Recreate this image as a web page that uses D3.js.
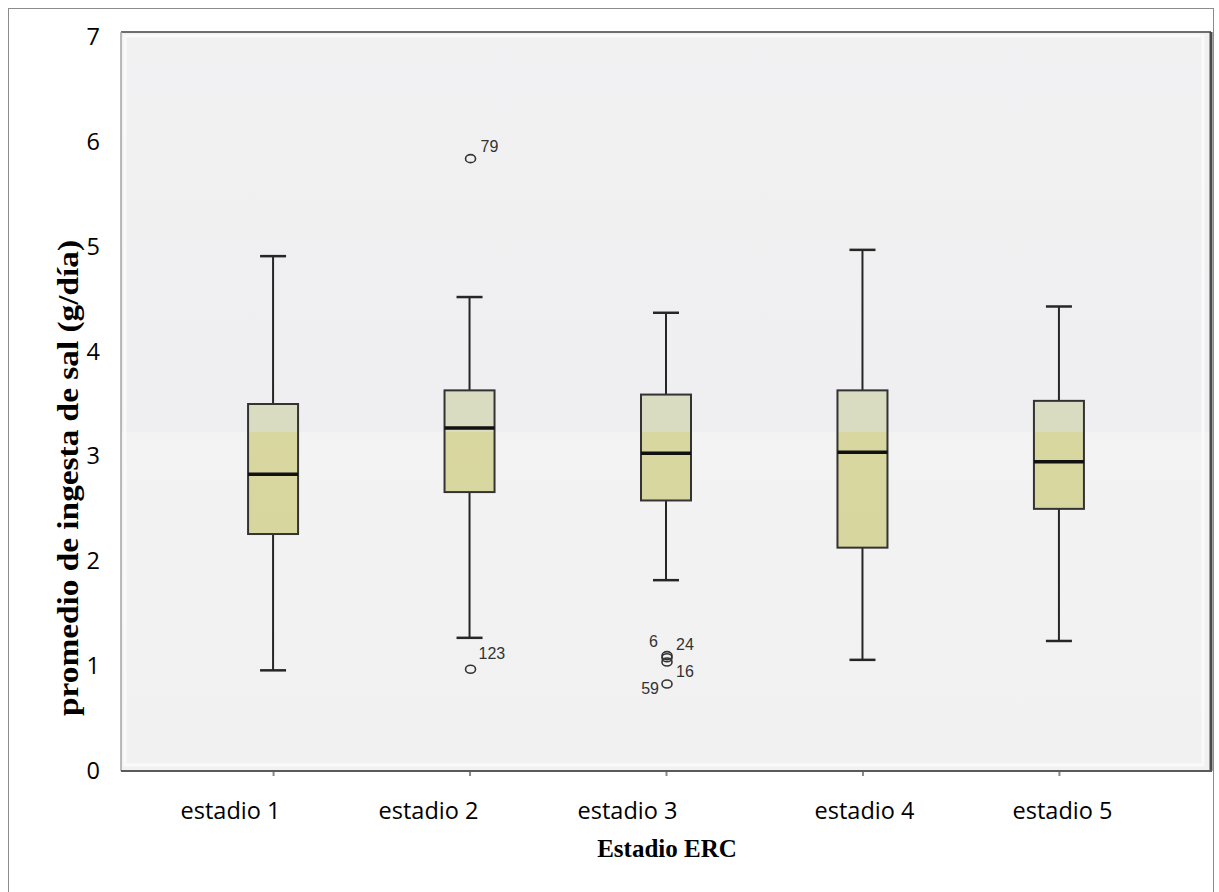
<!DOCTYPE html>
<html>
<head>
<meta charset="utf-8">
<script src="https://cdn.jsdelivr.net/npm/d3@7"></script>
<style>
  body { margin: 0; background: #fff; }
  .tick-label { font-family: 'Open Sans', sans-serif; font-size: 23.5px; fill: #000; }
  .axis-title { font-family: 'Liberation Serif', 'Times New Roman', serif; font-weight: bold; fill: #000; }
  .out-label { font-family: 'Liberation Sans', Arial, sans-serif; font-size: 16px; fill: #333; }
</style>
</head>
<body>
<div class="chart"></div>
<script>
// DATA ---------------------------------------------------------------

const stages = ['estadio 1', 'estadio 2', 'estadio 3', 'estadio 4', 'estadio 5'];
const whiskerLow  = [0.96, 1.27, 1.82, 1.06, 1.24];
const q1          = [2.26, 2.66, 2.58, 2.13, 2.50];
const medians     = [2.83, 3.27, 3.03, 3.04, 2.95];
const q3          = [3.50, 3.63, 3.59, 3.63, 3.53];
const whiskerHigh = [4.91, 4.52, 4.37, 4.97, 4.43];

const outlierStage = ['estadio 2', 'estadio 2', 'estadio 3', 'estadio 3', 'estadio 3', 'estadio 3'];
const outlierValue = [5.84, 0.97, 1.10, 1.08, 1.04, 0.83];
const outlierId    = ['79', '123', '6', '24', '16', '59'];

const yTicks = [0, 1, 2, 3, 4, 5, 6, 7];

// label placement around each outlier (layout only)
const labelPos = {
    '79':  {dx: 11, dy: -11, anchor: 'start'},
    '123': {dx: 9,  dy: -15, anchor: 'start'},
    '6':   {dx: -8, dy: -13, anchor: 'end'},
    '24':  {dx: 10, dy: -12, anchor: 'start'},
    '16':  {dx: 10, dy: 11,  anchor: 'start'},
    '59':  {dx: -7, dy: 6,   anchor: 'end'}
};

// the category labels were set by hand under the pasted plot, not exactly under each box
const labelCenters = [230, 428, 627, 864, 1062];

// CHART INIT ---------------------------------------------------------

const W = 1219, H = 892;
const plot = {left: 121, right: 1211, top: 32, bottom: 771};

const svg = d3.select('.chart')
    .append('svg')
    .attr('width', W)
    .attr('height', H);

// outer frame
svg.append('rect')
    .attr('x', 8.5).attr('y', 8.5)
    .attr('width', 1205).attr('height', 900)
    .attr('fill', 'none')
    .attr('stroke', '#8c8c8c')
    .attr('stroke-width', 1);

const xScale = d3.scalePoint()
    .domain(stages)
    .range([plot.left, plot.right])
    .padding(0.774);

const xLabelScale = d3.scaleOrdinal()
    .domain(stages)
    .range(labelCenters);

const yScale = d3.scaleLinear()
    .domain([0, 7])
    .range([771, 37]);

const defs = svg.append('defs');
const bandStop = (yScale(3.23) - plot.top) / (plot.bottom - plot.top);

const bgGrad = defs.append('linearGradient')
    .attr('id', 'bg')
    .attr('gradientUnits', 'userSpaceOnUse')
    .attr('x1', 0).attr('x2', 0)
    .attr('y1', plot.top).attr('y2', plot.bottom);
bgGrad.append('stop').attr('offset', 0).attr('stop-color', '#f1f1f2');
bgGrad.append('stop').attr('offset', bandStop).attr('stop-color', '#efeff1');
bgGrad.append('stop').attr('offset', bandStop).attr('stop-color', '#f3f3f3');
bgGrad.append('stop').attr('offset', 1).attr('stop-color', '#f1f1f1');

const boxGrad = defs.append('linearGradient')
    .attr('id', 'boxfill')
    .attr('gradientUnits', 'userSpaceOnUse')
    .attr('x1', 0).attr('x2', 0)
    .attr('y1', plot.top).attr('y2', plot.bottom);
boxGrad.append('stop').attr('offset', 0).attr('stop-color', '#dcdfca');
boxGrad.append('stop').attr('offset', bandStop).attr('stop-color', '#d9dcc0');
boxGrad.append('stop').attr('offset', bandStop).attr('stop-color', '#d8d79f');
boxGrad.append('stop').attr('offset', 1).attr('stop-color', '#d6d49c');

// plot background
svg.append('rect')
    .attr('x', plot.left).attr('y', plot.top)
    .attr('width', plot.right - plot.left)
    .attr('height', plot.bottom - plot.top)
    .attr('fill', 'url(#bg)');

// soft lighter rim just inside the frame
svg.append('rect')
    .attr('x', plot.left + 4).attr('y', plot.top + 4)
    .attr('width', plot.right - plot.left - 12)
    .attr('height', plot.bottom - plot.top - 10)
    .attr('fill', 'none')
    .attr('stroke', '#fafafa')
    .attr('stroke-width', 3);

// plot frame
svg.append('line')
    .attr('x1', plot.left).attr('x2', plot.right)
    .attr('y1', plot.top).attr('y2', plot.top)
    .attr('stroke', '#6e6e6e').attr('stroke-width', 2);
svg.append('line')
    .attr('x1', plot.left).attr('x2', plot.left)
    .attr('y1', plot.top).attr('y2', plot.bottom)
    .attr('stroke', '#a5a5a5').attr('stroke-width', 1.5);
svg.append('line')
    .attr('x1', plot.right).attr('x2', plot.right)
    .attr('y1', plot.top).attr('y2', plot.bottom)
    .attr('stroke', '#4a4a4a').attr('stroke-width', 3);
svg.append('line')
    .attr('x1', plot.left).attr('x2', plot.right + 1)
    .attr('y1', plot.bottom).attr('y2', plot.bottom)
    .attr('stroke', '#5a5a5a').attr('stroke-width', 2);

// AXES ---------------------------------------------------------------

const yAxis = d3.axisLeft(yScale)
    .tickValues(yTicks)
    .tickFormat(d3.format('d'))
    .tickSize(0)
    .tickPadding(0);

svg.append('g')
    .attr('class', 'axis y-axis')
    .attr('transform', 'translate(100,0)')
    .call(yAxis)
    .call(g => g.select('.domain').remove())
    .selectAll('text')
    .attr('class', 'tick-label')
    .attr('font-family', null)
    .attr('font-size', null);

// small tick marks under each box
const xTicks = d3.axisBottom(xScale)
    .tickSize(4)
    .tickFormat('');

svg.append('g')
    .attr('class', 'axis x-ticks')
    .attr('transform', 'translate(0,' + (plot.bottom + 1) + ')')
    .call(xTicks)
    .call(g => g.select('.domain').remove())
    .call(g => g.selectAll('line').attr('stroke', '#888').attr('stroke-width', 2));

// category labels
const xAxis = d3.axisBottom(xLabelScale)
    .tickSize(0)
    .tickPadding(30);

svg.append('g')
    .attr('class', 'axis x-axis')
    .attr('transform', 'translate(0,' + (plot.bottom + 1) + ')')
    .call(xAxis)
    .call(g => g.select('.domain').remove())
    .selectAll('text')
    .attr('class', 'tick-label')
    .attr('font-family', null)
    .attr('font-size', null);

svg.append('text')
    .attr('class', 'axis-title')
    .attr('x', 667)
    .attr('y', 857)
    .attr('text-anchor', 'middle')
    .attr('font-size', 25)
    .text('Estadio ERC');

svg.append('text')
    .attr('class', 'axis-title')
    .attr('transform', 'translate(78,478) rotate(-90)')
    .attr('text-anchor', 'middle')
    .attr('font-size', 29)
    .attr('textLength', 476)
    .attr('lengthAdjust', 'spacingAndGlyphs')
    .text('promedio de ingesta de sal (g/día)');

// BOXES --------------------------------------------------------------

const boxes = stages.map((s, i) => ({
    stage: s, lo: whiskerLow[i], q1: q1[i], med: medians[i], q3: q3[i], hi: whiskerHigh[i]
}));

const boxW = 50, capW = 26;

const g = svg.selectAll('.box')
    .data(boxes)
    .enter()
    .append('g')
    .attr('class', 'box')
    .attr('transform', d => 'translate(' + xScale(d.stage) + ',0)');

// whiskers
g.append('line')
    .attr('x1', 0).attr('x2', 0)
    .attr('y1', d => yScale(d.hi)).attr('y2', d => yScale(d.q3))
    .attr('stroke', '#262626').attr('stroke-width', 2);
g.append('line')
    .attr('x1', 0).attr('x2', 0)
    .attr('y1', d => yScale(d.q1)).attr('y2', d => yScale(d.lo))
    .attr('stroke', '#262626').attr('stroke-width', 2);
g.append('line')
    .attr('x1', -capW / 2).attr('x2', capW / 2)
    .attr('y1', d => yScale(d.hi)).attr('y2', d => yScale(d.hi))
    .attr('stroke', '#262626').attr('stroke-width', 2.5);
g.append('line')
    .attr('x1', -capW / 2).attr('x2', capW / 2)
    .attr('y1', d => yScale(d.lo)).attr('y2', d => yScale(d.lo))
    .attr('stroke', '#262626').attr('stroke-width', 2.5);

g.append('rect')
    .attr('x', -boxW / 2)
    .attr('width', boxW)
    .attr('y', d => yScale(d.q3))
    .attr('height', d => yScale(d.q1) - yScale(d.q3))
    .attr('fill', 'url(#boxfill)')
    .attr('stroke', '#333')
    .attr('stroke-width', 2);

g.append('line')
    .attr('x1', -boxW / 2).attr('x2', boxW / 2)
    .attr('y1', d => yScale(d.med)).attr('y2', d => yScale(d.med))
    .attr('stroke', '#111').attr('stroke-width', 3.5);

// OUTLIERS -----------------------------------------------------------

const outliers = outlierId.map((id, i) => ({id: id, stage: outlierStage[i], value: outlierValue[i]}));

svg.selectAll('.outlier')
    .data(outliers)
    .enter()
    .append('ellipse')
    .attr('class', 'outlier')
    .attr('cx', d => xScale(d.stage) + 1)
    .attr('cy', d => yScale(d.value))
    .attr('rx', 5)
    .attr('ry', 4)
    .attr('fill', 'none')
    .attr('stroke', '#333')
    .attr('stroke-width', 1.6);

svg.selectAll('.out-label')
    .data(outliers)
    .enter()
    .append('text')
    .attr('class', 'out-label')
    .attr('x', d => xScale(d.stage) + labelPos[d.id].dx)
    .attr('y', d => yScale(d.value) + labelPos[d.id].dy)
    .attr('text-anchor', d => labelPos[d.id].anchor)
    .attr('dominant-baseline', 'middle')
    .text(d => d.id);
</script>
</body>
</html>
